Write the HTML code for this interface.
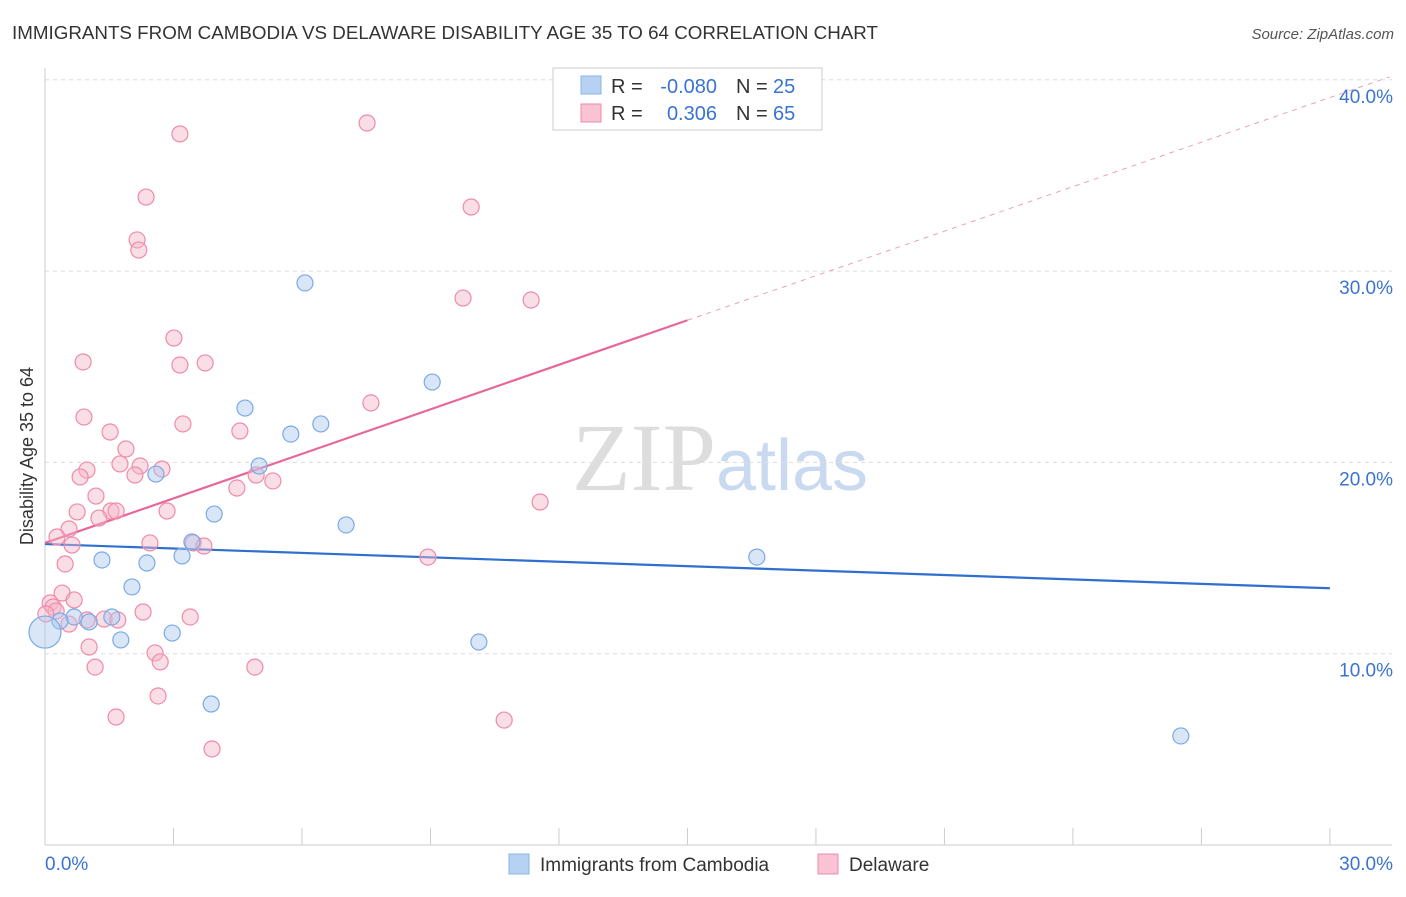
<!DOCTYPE html>
<html><head><meta charset="utf-8"><style>
body{margin:0;background:#fff;font-family:"Liberation Sans",sans-serif}
</style></head><body>
<svg id="chart" width="1406" height="892" xmlns="http://www.w3.org/2000/svg" font-family="Liberation Sans, sans-serif">
<text x="12" y="39" font-size="18" fill="#333" textLength="866" lengthAdjust="spacingAndGlyphs">IMMIGRANTS FROM CAMBODIA VS DELAWARE DISABILITY AGE 35 TO 64 CORRELATION CHART</text>
<text x="1394" y="39" font-size="15" fill="#555" font-style="italic" text-anchor="end">Source: ZipAtlas.com</text>
<text x="720" y="490" font-size="96" text-anchor="middle" fill="#ddd" font-family="Liberation Serif, serif">ZIP<tspan fill="#c9daf0" font-family="Liberation Sans, sans-serif" font-size="72">atlas</tspan></text>
<g id="grid"></g>
<g id="axes"></g>
<g id="lines"></g>
<g id="points"></g>
<text transform="translate(33,456) rotate(-90)" font-size="18" fill="#333" text-anchor="middle">Disability Age 35 to 64</text>
<g font-size="20">
<rect x="553" y="68" width="269" height="62" fill="#fff" stroke="#ccc"/>
<rect x="581" y="76" width="20" height="18" fill="#b7d1f3" stroke="#8ab4e8"/>
<rect x="581" y="104" width="20" height="18" fill="#f9c3d3" stroke="#f08aaa"/>
<text x="611" y="93" fill="#333">R =</text>
<text x="717" y="93" fill="#3a74d0" text-anchor="end">-0.080</text>
<text x="736" y="93" fill="#333">N =</text>
<text x="773" y="93" fill="#3a74d0">25</text>
<text x="611" y="120" fill="#333">R =</text>
<text x="717" y="120" fill="#3a74d0" text-anchor="end">0.306</text>
<text x="736" y="120" fill="#333">N =</text>
<text x="773" y="120" fill="#3a74d0">65</text>
</g>
<g>
<rect x="509" y="854" width="20" height="20" fill="#b7d1f3" stroke="#8ab4e8"/>
<text x="540" y="871" font-size="19" fill="#333">Immigrants from Cambodia</text>
<rect x="818" y="854" width="20" height="20" fill="#f9c3d3" stroke="#f08aaa"/>
<text x="849" y="871" font-size="19" fill="#333">Delaware</text>
</g>
</svg>
<script>
const yTicks=[10,20,30,40];
const yTickLabels=["10.0%","20.0%","30.0%","40.0%"];
const xLabels=["0.0%","30.0%"];
const blueX=[6.07,9.04,4.67,6.44,5.74,5.00,2.59,3.95,7.03,3.43,3.20,1.33,2.38,16.62,2.03,1.56,0.68,0.35,1.03,2.97,1.77,10.13,3.88,26.52,0.0];
const blueY=[29.38,24.20,22.84,22.01,21.48,19.81,19.39,17.30,16.73,15.84,15.11,14.90,14.74,15.05,13.49,11.92,11.92,11.71,11.66,11.08,10.72,10.61,7.37,5.70,11.13];
const pinkX=[3.15,7.52,2.36,9.95,2.15,2.19,9.76,11.35,3.01,0.89,3.15,3.74,7.61,0.91,3.22,1.52,4.55,1.89,0.98,1.75,2.22,2.73,0.82,2.10,4.93,5.32,4.48,1.19,11.56,0.75,1.54,1.66,2.85,1.26,0.56,0.28,2.45,0.63,3.46,3.71,8.94,0.47,0.40,0.68,0.12,0.19,0.26,2.29,3.39,1.38,1.70,0.98,0.56,0.02,1.03,2.57,2.69,1.17,4.90,2.64,1.66,10.72,3.90];
const pinkY=[37.17,37.74,33.87,33.35,31.63,31.10,28.59,28.49,26.50,25.25,25.09,25.20,23.11,22.37,22.01,21.59,21.64,20.70,19.60,19.92,19.81,19.65,19.24,19.34,19.34,19.03,18.66,18.24,17.93,17.41,17.46,17.46,17.46,17.09,16.52,16.10,15.79,15.68,15.79,15.63,15.05,14.69,13.17,12.81,12.65,12.44,12.23,12.18,11.92,11.81,11.76,11.76,11.55,12.08,10.35,10.04,9.57,9.30,9.30,7.79,6.69,6.53,5.02];
const blueTrend=[15.73,-0.077];
const pinkTrend=[15.79,0.776];
const NS="http://www.w3.org/2000/svg";
const sx=v=>45+v*42.83, sy=v=>845-v*19.13;
function mk(p,t,a){const e=document.createElementNS(NS,t);for(const k in a)e.setAttribute(k,a[k]);document.getElementById(p).appendChild(e);return e;}
yTicks.forEach((t,i)=>{
 const l=mk('grid','line',{x1:45,x2:1392,y1:sy(t),y2:sy(t),stroke:'#ddd','stroke-dasharray':'4,4'});
 
 
 const tx=mk('grid','text',{x:1393,y:sy(t)+23,'font-size':19,fill:'#3a74d0','text-anchor':'end'});
 tx.textContent=yTickLabels[i];
 
 
});
const ax=mk('axes','line',{x1:45,x2:1392,y1:845,y2:845,stroke:'#ccc'});


const ay=mk('axes','line',{x1:45,x2:45,y1:68,y2:845,stroke:'#ccc'});


for(let i=0;i<=10;i++){const t=mk('axes','line',{x1:sx(i*3),x2:sx(i*3),y1:828,y2:845,stroke:'#ccc'});
 
 }
[[0,'start',45],[30,'end',1393]].forEach((d,i)=>{const t=mk('axes','text',{x:d[2],y:870,'font-size':19,fill:'#3a74d0','text-anchor':d[1]});t.textContent=xLabels[i];
 
 });
function pts(X,Y,fill,stroke,name){X.forEach((x,i)=>{const c=mk('points','circle',{cx:sx(x),cy:sy(Y[i]),r:(name==='blue-point'&&x===0)?16:8,fill:fill,'fill-opacity':0.45,stroke:stroke,'stroke-width':1.2});
 
 });}
pts(pinkX,pinkY,'#f5b5c8','#f08aaa','pink-point');
pts(blueX,blueY,'#a9c8ef','#7aaae6','blue-point');
const bl=mk('lines','line',{x1:sx(0),y1:sy(blueTrend[0]),x2:sx(30),y2:sy(blueTrend[0]+blueTrend[1]*30),stroke:'#2f6fd0','stroke-width':2.2});


const pl=mk('lines','line',{x1:sx(0),y1:sy(pinkTrend[0]),x2:sx(15),y2:sy(pinkTrend[0]+pinkTrend[1]*15),stroke:'#e8679a','stroke-width':2.2});


const pd=mk('lines','line',{x1:sx(15),y1:sy(pinkTrend[0]+pinkTrend[1]*15),x2:sx(31.4),y2:sy(pinkTrend[0]+pinkTrend[1]*31.4),stroke:'#eaa0bc','stroke-width':1,'stroke-dasharray':'5,5'});


</script>
</body></html>
